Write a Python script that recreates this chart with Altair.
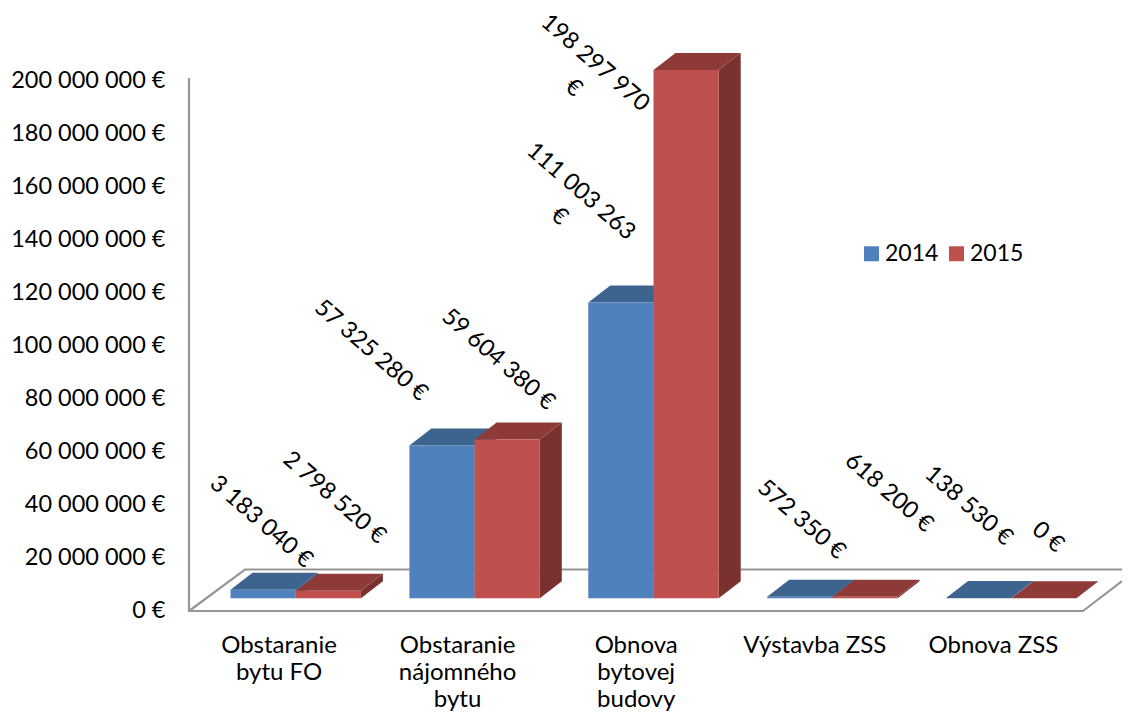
import altair as alt
import pandas as pd

categories = ["Obstaranie\nbytu FO", "Obstaranie\nnájomného\nbytu", "Obnova\nbytovej\nbudovy", "Výstavba ZSS", "Obnova ZSS"]
values_2014 = [3183040, 57325280, 111003263, 572350, 138530]
values_2015 = [2798520, 59604380, 198297970, 618200, 0]
label_2014 = ["3 183 040 €", "57 325 280 €", "111 003 263\n€", "572 350 €", "138 530 €"]
label_2015 = ["2 798 520 €", "59 604 380 €", "198 297 970\n€", "618 200 €", "0 €"]
years = ["2014", "2015"]
y_ticks = [0, 20e6, 40e6, 60e6, 80e6, 100e6, 120e6, 140e6, 160e6, 180e6, 200e6]

# --- layout (page pixels) ---
FONT = "Lato"
FS_AXIS, FS_CAT, FS_LABEL, FS_LEGEND = 23.5, 24, 23.5, 23
PAD_L, W, H = 181, 933, 704
ORIGIN_X, ORIGIN_Y = 8 + PAD_L, 8
SLOT = 178.9
BAR_W = 65.2
FIRST_BAR = 230.5
BASE_Y = 598.3
PX_PER_EUR = 2.664e-6
DEPTH_X, DEPTH_Y = 22, 17
FRONT, SIDE_C, TOP_C = {"2014": "#4F81BD", "2015": "#C0504D"}, {"2014": "#3A5E8A", "2015": "#7B3130"}, {"2014": "#3D638F", "2015": "#8E3A38"}
LABEL_OFFSET_2014 = [(-2, -68), (-71, -95), (-40, -111), (1.5, -77), (-10, -92)]
LABEL_OFFSET_2015 = [(6, -93), (-9, -80), (-91, -7), (24, -104), (4, -61)]


def ux(px):
    return (px - ORIGIN_X) / SLOT


def uy(py):
    return (BASE_Y - py) / PX_PER_EUR


x_scale = alt.Scale(domain=[0, W / SLOT], range=[0, W], nice=False, zero=False)
y_scale = alt.Scale(domain=[uy(ORIGIN_Y + H), uy(ORIGIN_Y)], range=[H, 0], nice=False, zero=False)

dx_u = DEPTH_X / SLOT
dy_u = DEPTH_Y / PX_PER_EUR
w_u = BAR_W / SLOT

faces, fronts, labels = [], [], []
for s, (year, vals, labs, offs) in enumerate(zip(years, [values_2014, values_2015], [label_2014, label_2015], [LABEL_OFFSET_2014, LABEL_OFFSET_2015])):
    for i, v in enumerate(vals):
        x0 = ux(FIRST_BAR + SLOT * i + BAR_W * s)
        x1 = x0 + w_u
        fronts.append(dict(x=x0, x2=x1, y=0, y2=v, year=year))
        side = f"{year}-{i}-side"
        faces += [
            dict(face=side, fill=SIDE_C[year], x=x1, y=0, y2=v),
            dict(face=side, fill=SIDE_C[year], x=x1 + dx_u, y=dy_u, y2=v + dy_u),
        ]
        top = f"{year}-{i}-top"
        faces += [
            dict(face=top, fill=TOP_C[year], x=x0, y=v, y2=v),
            dict(face=top, fill=TOP_C[year], x=x0 + dx_u, y=v, y2=v + dy_u),
            dict(face=top, fill=TOP_C[year], x=x1, y=v, y2=v + dy_u),
            dict(face=top, fill=TOP_C[year], x=x1 + dx_u, y=v + dy_u, y2=v + dy_u),
        ]
        labels.append(dict(x=(x0 + x1) / 2 + offs[i][0] / SLOT, y=v - offs[i][1] / PX_PER_EUR, text=labs[i]))

frame_pts = [
    (0, 189, 78), (0, 189, 611), (0, 1083, 611), (0, 1122, 581),
    (1, 189, 611), (1, 245, 569.5), (1, 1122, 569.5),
]
frame = [dict(path=p, seq=n, x=ux(a), y=uy(b)) for n, (p, a, b) in enumerate(frame_pts)]
cat_df = pd.DataFrame([
    dict(x=ux(279 + 178.6 * i), y=uy(634), text=c) for i, c in enumerate(categories)
])

X = lambda f="x": alt.X(f"{f}:Q", scale=x_scale, axis=None)
Y = lambda f="y": alt.Y(f"{f}:Q", scale=y_scale, axis=None)

tick_layer = alt.Chart(pd.DataFrame({"v": y_ticks})).mark_point(opacity=0).encode(
    x=alt.value(0),
    y=alt.Y("v:Q", scale=alt.Scale(domain=[0, 200e6], range=[602.5, 72], nice=False), axis=alt.Axis(
        orient="left", domain=False, ticks=False, grid=False, title=None, values=y_ticks,
        labelFont=FONT, labelFontSize=FS_AXIS, labelColor="#000000", labelPadding=24, labelBaseline="middle",
        labelExpr="replace(format(datum.value, ','), /,/g, ' ') + ' €'", labelOverlap=False, labelBound=False, labelFlush=False,
    )),
)

frame_layer = alt.Chart(pd.DataFrame(frame)).mark_line(color="#969696", strokeWidth=2.2, strokeCap="butt").encode(
    x=X(), y=Y(), detail="path:N", order="seq:Q"
)
face_layer = alt.Chart(pd.DataFrame(faces)).mark_area(interpolate="linear", line=False).encode(
    x=X(), y=Y(), y2="y2:Q", detail="face:N", color=alt.Color("fill:N", scale=None)
)
front_layer = alt.Chart(pd.DataFrame(fronts)).mark_bar(stroke=None).encode(
    x=X(), x2="x2:Q", y=Y(), y2="y2:Q",
    color=alt.Color("year:N", scale=alt.Scale(domain=years, range=[FRONT["2014"], FRONT["2015"]]), legend=alt.Legend(
        title=None, orient="none", legendX=860 - ORIGIN_X - 2, legendY=242 - ORIGIN_Y - 2, direction="horizontal", columns=2,
        symbolType="square", symbolSize=225, symbolStrokeWidth=0, symbolOpacity=1, labelFont=FONT, labelFontSize=FS_LEGEND,
        labelColor="#000000", labelOffset=2, columnPadding=6, padding=2,
    )),
)
label_layer = alt.Chart(pd.DataFrame(labels)).mark_text(
    font=FONT, fontSize=FS_LABEL, color="#000000", angle=41, align="center", baseline="middle", lineBreak="\n", lineHeight=33
).encode(x=X(), y=Y(), text="text:N")
cat_layer = alt.Chart(cat_df).mark_text(
    font=FONT, fontSize=FS_CAT, color="#000000", align="center", baseline="top", lineBreak="\n", lineHeight=27
).encode(x=X(), y=Y(), text="text:N")

chart = alt.layer(tick_layer, frame_layer, face_layer, front_layer, label_layer, cat_layer).resolve_scale(y="independent").properties(
    width=W, height=H,
    autosize=alt.AutoSizeParams(type="none"),
    padding={"left": PAD_L, "top": 0, "right": 0, "bottom": 0},
    background="white",
).configure_view(stroke=None)

chart.save("out.html", embed_options={"renderer": "svg", "actions": False})
